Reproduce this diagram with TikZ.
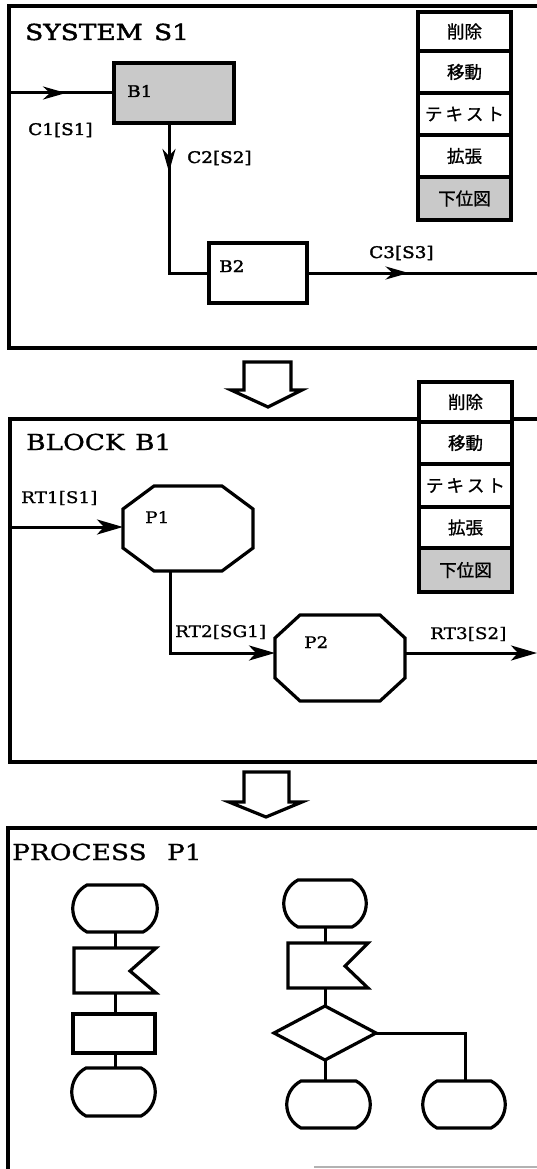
\documentclass[tikz,border=0pt]{standalone}
\usepackage{fontspec}
\usetikzlibrary{arrows.meta,decorations.markings}
\newfontfamily\labfont{DejaVu Serif}[FakeStretch=1.15,FakeBold=1]
\newfontfamily\labheavy{DejaVu Serif}[FakeStretch=1.15,FakeBold=2]
\newfontfamily\titlefont{DejaVu Serif}[FakeStretch=1.2,FakeBold=1]
\newfontfamily\titleheavyfont{DejaVu Serif}[FakeStretch=1.2,FakeBold=2]
\newfontfamily\cjkfont{Noto Sans CJK JP}[FakeBold=1]

% SDL terminal symbol: flat top and bottom, bulging sides
\newcommand\sdlterminal[4]{%
  \draw[sym] (#1+14,#3) -- (#2-14,#3)
    .. controls (#2+5,#3+10) and (#2+5,#4-10) .. (#2-14,#4)
    -- (#1+14,#4)
    .. controls (#1-5,#4-10) and (#1-5,#3+10) .. cycle;}
% SDL input (signal reception) symbol: box with a notch on the right
\newcommand\sdlinput[6]{%
  \draw[sym] (#1,#3) -- (#2,#3) -- (#5,#6) -- (#2,#4) -- (#1,#4) -- cycle;}

\begin{document}
\begin{tikzpicture}[x=1pt,y=-1pt,
  frame/.style={line width=3.2pt,line join=miter},
  sym/.style={line width=3.2pt,line join=miter,fill=white},
  wire/.style={line width=3pt},
  box/.style={draw,line width=3.2pt,inner sep=0pt},
  shaded/.style={fill=gray!42},
  cell/.style={draw,line width=3.2pt,fill=white,inner sep=0pt,minimum width=93pt,
    font=\cjkfont\fontsize{17.5}{18}\selectfont},
  title/.style={anchor=base west,inner sep=0pt,font=\titlefont\fontsize{22}{24}\selectfont},
  titleheavy/.style={anchor=base west,inner sep=0pt,font=\titleheavyfont\fontsize{22}{24}\selectfont},
  lab/.style={anchor=base west,inner sep=0pt,font=\labfont\fontsize{16}{18}\selectfont},
  labheavy/.style={anchor=base west,inner sep=0pt,font=\labheavy\fontsize{16}{18}\selectfont},
  endtip/.style={-{Stealth[length=26pt,width=15pt,inset=7pt]}},
  midtip/.style={postaction={decorate},decoration={markings,
    mark=at position #1 with {\arrow{Stealth[length=23pt,width=13pt,inset=7pt]}}}},
  bigarrow/.style={line width=3.2pt,line join=miter,fill=white}
]
\useasboundingbox (0,0) rectangle (537,1169);

% ---------------- SYSTEM S1 ----------------
\draw[frame] (537,6) -- (9,6) -- (9,348) -- (537,348);
\node[titleheavy] (sysTitle) at (25,40) {SYSTEM\hspace{3pt} S1};

\node[box,shaded,minimum width=120pt,minimum height=60pt] (B1) at (174,93) {};
\node[labheavy] (B1text) at (127,97) {B1};
\node[box,fill=white,minimum width=98pt,minimum height=60pt] (B2) at (258,273) {};
\node[labheavy] (B2text) at (219,272) {B2};

\coordinate (c1in) at (9,93);
\coordinate (c2a) at (169,123);
\coordinate (c2b) at (169,273);
\coordinate (c3out) at (537,273);
\draw[wire,midtip=57pt] (c1in) -- (B1.west);
\draw[wire,midtip=49pt] (c2a) -- (c2b) -- (B2.west);
\draw[wire,midtip=100pt] (B2.east) -- (c3out);
\node[labheavy] (c1lab) at (28,135) {C1[S1]};
\node[labheavy] (c2lab) at (187,163) {C2[S2]};
\node[labheavy] (c3lab) at (369,258) {C3[S3]};

% command menu
\node[cell,minimum height=39pt] (m1a) at (464.5,31.5) {削除};
\node[cell,minimum height=42pt] (m1b) at (464.5,72) {移動};
\node[cell,minimum height=42pt] (m1c) at (464.5,114) {テ\hspace{3pt}キ\hspace{3pt}ス\hspace{3pt}ト};
\node[cell,minimum height=42pt] (m1d) at (464.5,156) {拡張};
\node[cell,shaded,minimum height=43pt] (m1e) at (464.5,198.5) {下位図};

% hollow arrow down
\draw[bigarrow] (244,362) -- (291,362) -- (291,390) -- (302,390) -- (268,407)
  -- (231,390) -- (244,390) -- cycle;

% ---------------- BLOCK B1 ----------------
\draw[frame] (537,419) -- (10,419) -- (10,762) -- (537,762);
\node[title] (blkTitle) at (26,450) {BLOCK\hspace{2pt} B1};

\draw[sym] (123,509) -- (154,486) -- (222,486) -- (253,509) -- (253,548)
  -- (222,571) -- (154,571) -- (123,548) -- cycle;
\coordinate (P1w) at (123,527);
\coordinate (P1s) at (170,571);
\node[lab] (P1text) at (145,523) {P1};

\draw[sym] (275,638) -- (300,615) -- (380,615) -- (405,638) -- (405,678)
  -- (380,701) -- (300,701) -- (275,678) -- cycle;
\coordinate (P2w) at (275,653);
\coordinate (P2e) at (405,653);
\node[lab] (P2text) at (304,648) {P2};

\coordinate (rt1in) at (10,527);
\coordinate (rt2bend) at (170,653);
\coordinate (rt3out) at (537,653);
\draw[wire,endtip] (rt1in) -- (P1w);
\draw[wire,endtip] (P1s) -- (rt2bend) -- (P2w);
\draw[wire,endtip] (P2e) -- (rt3out);
\node[lab] (rt1lab) at (21,503) {RT1[S1]};
\node[lab] (rt2lab) at (175,637) {RT2[SG1]};
\node[lab] (rt3lab) at (430,639) {RT3[S2]};

\node[cell,minimum height=40pt] (m2a) at (465.5,402) {削除};
\node[cell,minimum height=42pt] (m2b) at (465.5,443) {移動};
\node[cell,minimum height=43pt] (m2c) at (465.5,485.5) {テ\hspace{3pt}キ\hspace{3pt}ス\hspace{3pt}ト};
\node[cell,minimum height=41pt] (m2d) at (465.5,527.5) {拡張};
\node[cell,shaded,minimum height=44pt] (m2e) at (465.5,570) {下位図};

\draw[bigarrow] (244,772) -- (289,772) -- (289,802) -- (302,802) -- (266,817)
  -- (229,802) -- (244,802) -- cycle;

% ---------------- PROCESS P1 ----------------
\draw[frame] (537,828) -- (8,828) -- (8,1172);
\draw[line width=2pt,gray!60] (314,1167) -- (537,1167);
\node[title] (procTitle) at (12,860) {PROCESS\hspace{12pt} P1};

% left flow
\coordinate (t1s) at (115,932);
\coordinate (r1n) at (115,948);
\coordinate (r1s) at (115,993);
\coordinate (t2n) at (115,1068);
\node[box,fill=white,minimum width=82pt,minimum height=39pt] (task) at (114,1033.5) {};
\draw[wire] (t1s) -- (r1n);
\draw[wire] (r1s) -- (task.north -| r1s);
\draw[wire] (task.south -| t2n) -- (t2n);
\sdlterminal{73}{157}{885}{932}
\sdlinput{74}{156}{948}{993}{130}{971}
\sdlterminal{72}{155}{1068}{1116}

% right flow
\coordinate (t3s) at (325,927);
\coordinate (r2n) at (325,943);
\coordinate (r2s) at (325,988);
\coordinate (dN) at (325,1006);
\coordinate (dS) at (325,1060);
\coordinate (dE) at (376,1033);
\coordinate (dW) at (274,1033);
\coordinate (t4n) at (325,1081);
\coordinate (brk) at (465,1033);
\coordinate (t5n) at (465,1081);
\draw[wire] (t3s) -- (r2n);
\draw[wire] (r2s) -- (dN);
\draw[wire] (dS) -- (t4n);
\draw[wire] (dE) -- (brk) -- (t5n);
\sdlterminal{284}{366}{880}{927}
\sdlinput{288}{368}{943}{988}{345}{966}
\draw[sym] (dW) -- (dN) -- (dE) -- (dS) -- cycle;
\sdlterminal{287}{370}{1081}{1128}
\sdlterminal{423}{505}{1081}{1128}
\end{tikzpicture}
\end{document}
